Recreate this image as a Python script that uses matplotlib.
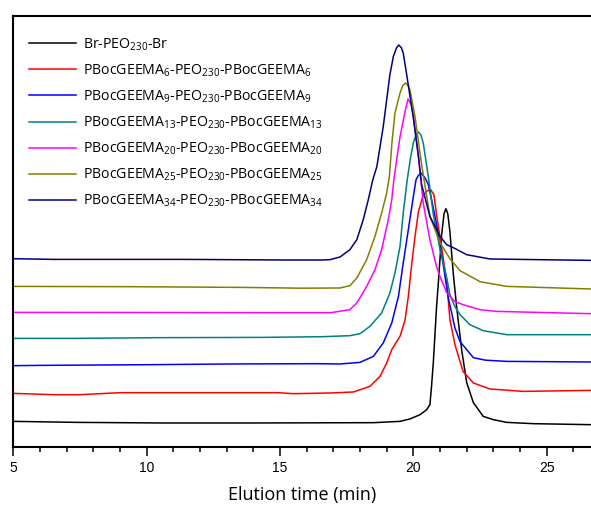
import matplotlib
matplotlib.use("Agg")
from matplotlib import pyplot as plt
from matplotlib.ticker import MultipleLocator

# elution time (min) and detector signal (arb. units)
t_br = [5.0, 7.4, 10.5, 14.0, 18.5, 19.5, 19.87, 20.25, 20.5, 20.62, 20.68, 20.75,
        20.87, 20.94, 21.06, 21.15, 21.22, 21.29, 21.37, 21.5, 21.63, 21.81, 22.0,
        22.25, 22.62, 23.0, 23.5, 24.5, 26.66]
s_br = [25.3, 24.3, 23.7, 23.7, 24, 25.3, 27.7, 32, 37, 42, 60, 85,
        140, 165, 212, 233, 238, 233, 215, 172, 138, 97, 64,
        44, 30.3, 27, 24.3, 23, 22]

t_6 = [5.0, 6.5, 7.5, 9.0, 14.9, 15.5, 16.9, 17.75, 18.37, 18.75, 19.0, 19.19, 19.38,
       19.5, 19.69, 19.81, 19.94, 20.06, 20.19, 20.35, 20.5, 20.65, 20.77, 20.87,
       21.06, 21.25, 21.37, 21.56, 21.75, 21.87, 22.25, 22.87, 24.12, 26.66]
s_6 = [53.3, 52, 52, 54, 54, 53, 53.7, 54.7, 60.3, 70.3, 83.7, 97, 105.3,
       110.3, 127, 150, 183, 210, 235, 250, 255.5, 257, 252, 232,
       198.7, 165.3, 127, 102, 85, 75, 63.7, 57.7, 55.3, 56.3]

t_9 = [5.0, 6.0, 10.13, 13.13, 16.38, 17.25, 18.0, 18.5, 18.87, 19.19, 19.44, 19.62,
       19.81, 20.0, 20.1, 20.18, 20.29, 20.44, 20.56, 20.7, 20.87, 21.12, 21.31,
       21.56, 21.75, 21.94, 22.25, 22.7, 23.5, 26.66]
s_9 = [81, 81.3, 82, 82.7, 83, 82.7, 84.3, 90.3, 103.7, 123.7, 150.3, 183.7,
       217, 250.3, 267, 271, 273.7, 268.7, 262, 245, 222, 182, 148.7,
       118.7, 105, 99, 89, 86.5, 85.3, 84.7]

t_13 = [5.0, 7.25, 10.38, 14.36, 16.61, 17.62, 18.0, 18.37, 18.81, 19.12, 19.31, 19.5,
        19.62, 19.77, 19.9, 20.0, 20.1, 20.19, 20.28, 20.37, 20.56, 20.75, 21.0,
        21.25, 21.37, 21.56, 21.75, 22.12, 22.62, 23.5, 26.66]
s_13 = [108.3, 108.3, 109, 109.3, 110, 111, 113, 120.3, 133.7, 153.7, 173.7, 200.3,
        233.7, 267, 290, 304, 312, 314.7, 312, 303.7, 270.3, 232, 197,
        169, 152, 140, 132, 122, 116, 112, 112]

t_20 = [5.0, 10.0, 14.6, 16.9, 17.62, 17.88, 18.25, 18.56, 18.81, 19.06, 19.19, 19.27,
        19.38, 19.5, 19.62, 19.71, 19.8, 19.92, 20.0, 20.19, 20.37, 20.62, 20.87,
        21.0, 21.25, 21.56, 21.87, 22.5, 23.13, 26.66]
s_20 = [134.3, 134.2, 134, 134, 137, 143.7, 160.3, 177, 197, 227, 247, 267,
        288, 310, 326, 338, 347.7, 342, 330.3, 290.3, 243.7, 207, 180,
        170, 154, 145, 142, 137, 135.3, 133]

t_25 = [5.0, 9.37, 13.5, 15.8, 17.25, 17.62, 17.88, 18.25, 18.56, 18.81, 19.0, 19.1,
        19.2, 19.31, 19.5, 19.6, 19.71, 19.8, 19.87, 20.06, 20.31, 20.62, 21.0,
        21.37, 21.75, 22.5, 23.5, 26.66]
s_25 = [160.3, 160, 159.3, 158.5, 158.7, 161, 168.7, 187, 210.3, 233.7, 253.7, 270,
        305, 333.7, 353.7, 361, 363.7, 361, 357, 330.3, 282, 230.3, 204,
        188, 176, 165, 160.3, 157.7]

t_34 = [5.0, 6.5, 11.4, 15.1, 16.6, 16.87, 17.25, 17.62, 17.88, 18.12, 18.31, 18.48,
        18.63, 18.87, 19.12, 19.25, 19.37, 19.45, 19.55, 19.62, 19.75, 20.0, 20.19,
        20.31, 20.62, 21.0, 21.25, 21.5, 22.0, 22.87, 26.66]
s_34 = [188, 187.3, 187.3, 186.7, 186.7, 187, 189.7, 197, 207, 227, 247, 267,
        280, 320, 372, 390.3, 399, 401.7, 399, 393.7, 372, 328.7, 290.3,
        262, 230.3, 210.3, 202, 199, 192, 187.7, 186.3]

labels = [
    r"Br-PEO$_\mathrm{230}$-Br",
    r"PBocGEEMA$_\mathrm{6}$-PEO$_\mathrm{230}$-PBocGEEMA$_\mathrm{6}$",
    r"PBocGEEMA$_\mathrm{9}$-PEO$_\mathrm{230}$-PBocGEEMA$_\mathrm{9}$",
    r"PBocGEEMA$_\mathrm{13}$-PEO$_\mathrm{230}$-PBocGEEMA$_\mathrm{13}$",
    r"PBocGEEMA$_\mathrm{20}$-PEO$_\mathrm{230}$-PBocGEEMA$_\mathrm{20}$",
    r"PBocGEEMA$_\mathrm{25}$-PEO$_\mathrm{230}$-PBocGEEMA$_\mathrm{25}$",
    r"PBocGEEMA$_\mathrm{34}$-PEO$_\mathrm{230}$-PBocGEEMA$_\mathrm{34}$",
]
colors = ["#000000", "#ff0000", "#0000ff", "#008080", "#ff00ff", "#808000", "#000080"]

plt.rcParams["mathtext.fontset"] = "custom"
plt.rcParams["mathtext.rm"] = "Open Sans"
plt.rcParams["mathtext.it"] = "Open Sans"

fig = plt.figure(figsize=(5.91, 5.05), dpi=100)
ax = fig.add_axes([0.0225, 0.1155, 0.9775, 0.8538])

series = [(t_br, s_br), (t_6, s_6), (t_9, s_9), (t_13, s_13),
          (t_20, s_20), (t_25, s_25), (t_34, s_34)]
for (t, s), c, lab in zip(series, colors, labels):
    ax.plot(t, s, color=c, lw=1.1, label=lab, solid_joinstyle="round")

ax.set_xlim(5, 26.66)
ax.set_ylim(0, 431.2)
ax.xaxis.set_major_locator(MultipleLocator(5))
ax.xaxis.set_minor_locator(MultipleLocator(1))
ax.tick_params(axis="x", which="major", direction="out", length=6.5, width=1.1,
               labelsize=10, pad=4)
ax.tick_params(axis="x", which="minor", direction="out", length=3.6, width=1.1)
ax.set_yticks([])
for lbl in ax.get_xticklabels():
    lbl.set_fontfamily("Liberation Sans")
ax.spines["right"].set_visible(False)
for side in ["left", "top", "bottom"]:
    ax.spines[side].set_linewidth(1.5)

ax.set_xlabel("Elution time (min)", fontfamily="Open Sans", fontsize=13, labelpad=8)

leg = ax.legend(loc="upper left", bbox_to_anchor=(0.049, 0.928),
                bbox_transform=fig.transFigure, frameon=False,
                prop={"family": "Open Sans", "size": 10.2},
                handlelength=3.35, handletextpad=0.45, labelspacing=0.68,
                borderpad=0, borderaxespad=0)

fig.savefig("out.png", dpi=100)
